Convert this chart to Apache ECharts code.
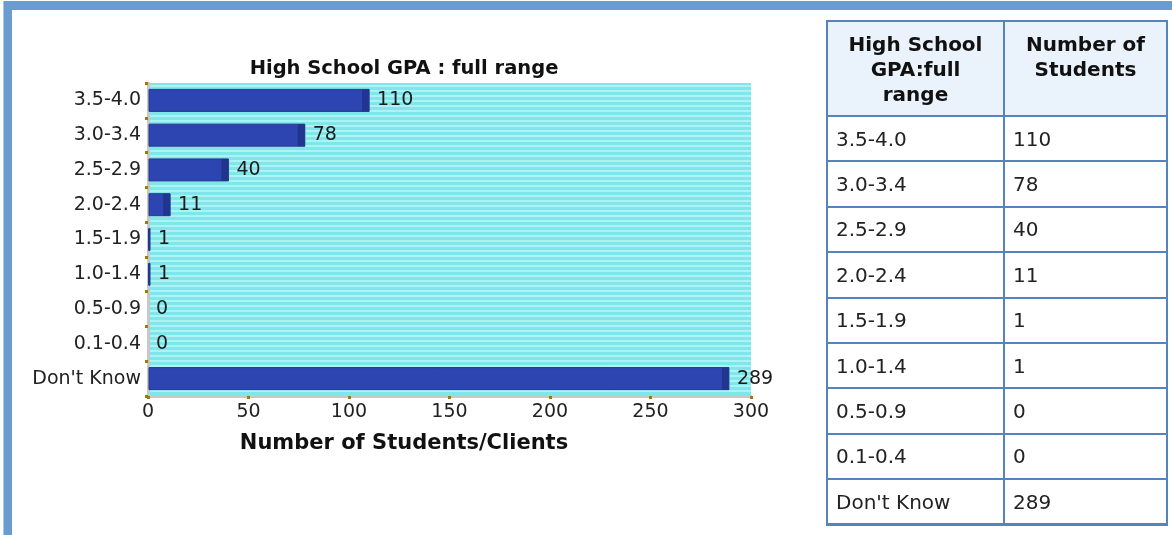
<!DOCTYPE html>
<html>
<head>
<meta charset="utf-8">
<script src="https://cdn.jsdelivr.net/npm/echarts@6/dist/echarts.min.js"></script>
<style>
html,body{margin:0;padding:0;background:#fff;width:1172px;height:535px;overflow:hidden;font-family:"DejaVu Sans",Verdana,sans-serif;}
#frameTop{position:absolute;left:3px;top:1px;width:1169px;height:9px;background:#6a9bd1;}
#frameLeft{position:absolute;left:3px;top:1px;width:9px;height:534px;background:#6a9bd1;border-left:1px solid #a9c6e6;box-sizing:border-box;}
#chart{position:absolute;left:0;top:0;width:1172px;height:535px;}
#tbl{position:absolute;left:826px;top:20px;width:340px;border-collapse:collapse;table-layout:fixed;color:#222;font-size:20px;}
#tbl th,#tbl td{border:2px solid #5584bd;padding:0 0 0 8px;text-align:left;vertical-align:middle;}
#tbl th{background:#eaf2fb;font-weight:bold;color:#111;text-align:center;vertical-align:top;line-height:25px;padding:10px 9px 0 9px;height:83px;}
#tbl tr.r{height:45.4px;}
#tbl tr:last-child td{border-bottom-width:3px;}
</style>
</head>
<body>
<div id="frameTop"></div>
<div id="frameLeft"></div>
<div id="chart"></div>
<table id="tbl"><colgroup><col style="width:177px"><col style="width:163px"></colgroup><thead><tr id="hdr"></tr></thead><tbody id="tbody"></tbody></table>
<script>
var chartTitle = 'High School GPA : full range';
var axisTitle = 'Number of Students/Clients';
var tableHeaders = ['High School GPA:full range', 'Number of Students'];
var categories = ['3.5-4.0','3.0-3.4','2.5-2.9','2.0-2.4','1.5-1.9','1.0-1.4','0.5-0.9','0.1-0.4',"Don't Know"];
var students = [110, 78, 40, 11, 1, 1, 0, 0, 289];
var xTicks = {min: 0, max: 300, interval: 50};

// table
var hdr = document.getElementById('hdr');
tableHeaders.forEach(function(h){ var th=document.createElement('th'); th.textContent=h; hdr.appendChild(th); });
var tb = document.getElementById('tbody');
categories.forEach(function(c,i){
  var tr=document.createElement('tr'); tr.className='r';
  var a=document.createElement('td'); a.textContent=c;
  var b=document.createElement('td'); b.textContent=String(students[i]);
  tr.appendChild(a); tr.appendChild(b); tb.appendChild(tr);
});

// stripe pattern
var pc = document.createElement('canvas'); pc.width = 5; pc.height = 5;
var pctx = pc.getContext('2d');
pctx.fillStyle = '#7fe7ec'; pctx.fillRect(0,0,5,5);
pctx.fillStyle = '#aef3f3'; pctx.fillRect(0,0,5,2);

var FONT = '"DejaVu Sans", Verdana, sans-serif';
var chart = echarts.init(document.getElementById('chart'), null, {renderer:'canvas'});
var data = students.map(function(v,i){ return [v, i]; });

chart.setOption({
  animation: false,
  grid: {left:148, top:83, width:603, height:313, show:true, borderWidth:0, backgroundColor:{image:pc, repeat:'repeat'}},
  graphic: [
    {type:'text', x:404, y:69, style:{text:chartTitle, align:'center', verticalAlign:'middle', fontSize:19.5, fontWeight:'bold', fontFamily:FONT, fill:'#111'}},
    {type:'text', x:404, y:444, style:{text:axisTitle, align:'center', verticalAlign:'middle', fontSize:21, fontWeight:'bold', fontFamily:FONT, fill:'#111'}}
  ],
  xAxis: {
    type:'value', min:xTicks.min, max:xTicks.max, interval:xTicks.interval,
    axisLine:{show:true, lineStyle:{color:'#c8c8c8', width:3}},
    axisTick:{show:true, length:3, lineStyle:{color:'#9c7a0a', width:3}},
    axisLabel:{fontSize:19, color:'#222', fontFamily:FONT, margin:7},
    splitLine:{show:false}
  },
  yAxis: {
    type:'category', data:categories, inverse:true,
    axisLine:{show:true, lineStyle:{color:'#c8c8c8', width:3}},
    axisTick:{show:true, length:3, lineStyle:{color:'#9c7a0a', width:3}},
    axisLabel:{fontSize:19, color:'#222', fontFamily:FONT, margin:7},
    splitLine:{show:false}
  },
  series: [{
    type:'custom',
    data:data,
    encode:{x:0, y:1},
    clip:false,
    renderItem:function(params, api){
      var v = api.value(0), ci = api.value(1);
      var s = api.coord([0, ci]);
      var e = api.coord([v, ci]);
      var h = 22;
      var w = e[0] - s[0];
      var cap = Math.min(7, w);
      var ch = [];
      if (w > 0) {
        ch.push({type:'rect', shape:{x:s[0]+1, y:s[1]-h/2, width:w-1, height:h}, style:{fill:'#2d45b1', stroke:'#23378f', lineWidth:1}});
        ch.push({type:'rect', shape:{x:e[0]-cap, y:s[1]-h/2, width:cap, height:h}, style:{fill:'#22358e'}});
      }
      ch.push({type:'text', x:e[0]+8, y:s[1], style:{text:String(v), align:'left', verticalAlign:'middle', fontSize:19, fontFamily:FONT, fill:'#1a1a1a'}});
      return {type:'group', children:ch};
    }
  }]
});
</script>
</body>
</html>
